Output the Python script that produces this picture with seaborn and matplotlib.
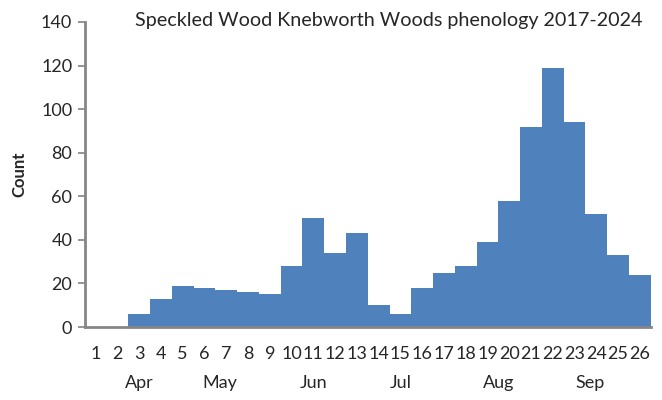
import matplotlib
matplotlib.use("Agg")
import matplotlib.pyplot as plt
import matplotlib.transforms as mtransforms
import seaborn as sns
import pandas as pd

weeks = list(range(1, 27))
counts = [0, 0, 6, 13, 19, 18, 17, 16, 15, 28, 50, 34, 43, 10, 6, 18, 25, 28, 39, 58, 92, 119, 94, 52, 33, 24]
months = ["Apr", "May", "Jun", "Jul", "Aug", "Sep"]
month_weeks = [3, 6.7, 11, 15, 19.5, 23.7]
title = "Speckled Wood Knebworth Woods phenology 2017-2024"

sns.set_theme(style="white")
plt.rcParams['font.family'] = ['Lato', 'DejaVu Sans']

df = pd.DataFrame({"week": [str(w) for w in weeks], "count": counts})

fig = plt.figure(figsize=(6.62, 4.0), dpi=100)
ax = fig.add_axes([0.128, 0.1825, 0.855, 0.7625])
sns.barplot(data=df, x="week", y="count", color="#4f81bd", width=1.0,
            saturation=1, linewidth=0, ax=ax)

ax.set_ylim(0, 140)
ax.set_xlim(-0.5, len(weeks) - 0.5)
ax.set_yticks(range(0, 141, 20))
ax.tick_params(axis="y", left=True, length=5, color="#868686", labelsize=13, pad=4)
ax.tick_params(axis="x", bottom=False, labelsize=13, pad=8)
for s in ["top", "right"]:
    ax.spines[s].set_visible(False)
for s in ["left", "bottom"]:
    ax.spines[s].set_color("#868686")
    ax.spines[s].set_linewidth(2)
ax.set_xlabel("")
ax.set_ylabel("Count", fontsize=12, fontweight="bold", labelpad=10)

trans = mtransforms.blended_transform_factory(ax.transData, ax.transAxes)
for m, w in zip(months, month_weeks):
    ax.text(w - 1, -0.185, m, transform=trans, ha="center", va="center", fontsize=13)

ax.text(0.537, 1.005, title, transform=ax.transAxes, ha="center", va="center", fontsize=14.2)

fig.savefig("out.png", dpi=100)
